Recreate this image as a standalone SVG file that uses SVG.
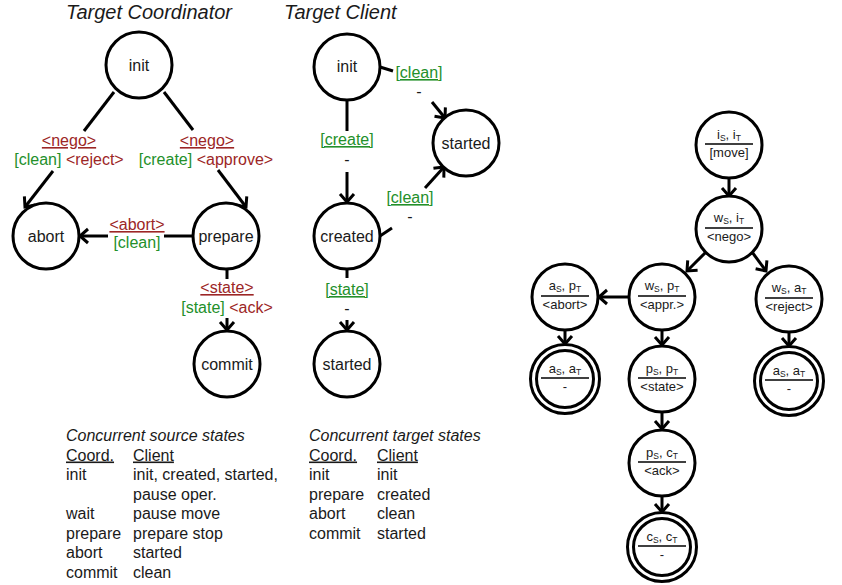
<svg xmlns="http://www.w3.org/2000/svg" width="842" height="585" viewBox="0 0 842 585">
<style>
text{font-family:"Liberation Sans",Arial,sans-serif;fill:#1a1a1a}
.t{font-size:20px;font-style:italic}
.n{font-size:16px;text-anchor:middle}
.l{font-size:16px;text-anchor:middle}
.r{fill:#9c2626}
.g{fill:#23902a}
.u{text-decoration:underline}
.tb{font-size:16px}
.ti{font-size:16px;font-style:italic}
.s{font-size:13px;text-anchor:middle}
.sb{font-size:8.5px}
circle{fill:#fff;stroke:#000;stroke-width:3}
.e line,.e path{stroke:#000;stroke-width:3;fill:none}
.dv{stroke:#000;stroke-width:1.3}
</style>
<defs>
<marker id="a" markerUnits="userSpaceOnUse" markerWidth="20" markerHeight="20" viewBox="0 0 20 20" refX="14" refY="10" orient="auto">
<path d="M6,3 L14,10 L6,17" fill="none" stroke="#000" stroke-width="3"/>
</marker>
</defs>

<text class="t" x="66" y="19">Target Coordinator</text>
<text class="t" x="284" y="19">Target Client</text>

<g class="e" id="connectors">
<line x1="114" y1="92" x2="84" y2="131"/>
<line x1="53" y1="171" x2="25" y2="207" marker-end="url(#a)"/>
<line x1="164" y1="92" x2="193" y2="130"/>
<line x1="218" y1="170" x2="246" y2="207" marker-end="url(#a)"/>
<line x1="193" y1="236" x2="164" y2="236"/>
<line x1="108" y1="236" x2="80" y2="236" marker-end="url(#a)"/>
<line x1="227" y1="269" x2="227" y2="279"/>
<line x1="227" y1="318" x2="227" y2="330" marker-end="url(#a)"/>
<line x1="347" y1="100" x2="347" y2="131"/>
<line x1="347" y1="172" x2="347" y2="202" marker-end="url(#a)"/>
<line x1="380" y1="67" x2="393" y2="71"/>
<line x1="432" y1="102" x2="445" y2="118" marker-end="url(#a)"/>
<line x1="380" y1="236" x2="392" y2="228"/>
<line x1="425" y1="188" x2="444" y2="167" marker-end="url(#a)"/>
<line x1="347" y1="270" x2="347" y2="278"/>
<line x1="347" y1="320" x2="347" y2="330" marker-end="url(#a)"/>
<line x1="729" y1="178" x2="729" y2="196" marker-end="url(#a)"/>
<line x1="706" y1="252" x2="687" y2="271" marker-end="url(#a)"/>
<line x1="752" y1="252" x2="766" y2="271" marker-end="url(#a)"/>
<line x1="629" y1="297" x2="599" y2="297" marker-end="url(#a)"/>
<line x1="565" y1="330" x2="565" y2="344" marker-end="url(#a)"/>
<line x1="662" y1="330" x2="662" y2="345" marker-end="url(#a)"/>
<line x1="789" y1="332" x2="789" y2="346" marker-end="url(#a)"/>
<line x1="662" y1="412" x2="662" y2="429" marker-end="url(#a)"/>
<line x1="662" y1="496" x2="662" y2="512" marker-end="url(#a)"/>
</g>

<g id="edge-labels">
<text class="l r u" x="69" y="146">&lt;nego&gt;</text>
<text class="l" x="69" y="165"><tspan class="g">[clean]</tspan> <tspan class="r">&lt;reject&gt;</tspan></text>
<text class="l r u" x="207" y="146">&lt;nego&gt;</text>
<text class="l" x="206" y="165"><tspan class="g">[create]</tspan> <tspan class="r">&lt;approve&gt;</tspan></text>
<text class="l r u" x="137" y="230">&lt;abort&gt;</text>
<text class="l g" x="137" y="248">[clean]</text>
<text class="l r u" x="227" y="293">&lt;state&gt;</text>
<text class="l" x="227" y="313"><tspan class="g">[state]</tspan> <tspan class="r">&lt;ack&gt;</tspan></text>
<text class="l g u" x="347" y="145">[create]</text>
<text class="l" x="347" y="165">-</text>
<text class="l g u" x="419" y="78">[clean]</text>
<text class="l" x="419" y="97">-</text>
<text class="l g u" x="410" y="203">[clean]</text>
<text class="l" x="410" y="222">-</text>
<text class="l g u" x="347" y="295">[state]</text>
<text class="l" x="347" y="314">-</text>
</g>

<g id="c-init"><circle cx="139" cy="65" r="33"/><text class="n" x="139" y="71">init</text></g>
<g id="c-abort"><circle cx="46" cy="236" r="33"/><text class="n" x="46" y="242">abort</text></g>
<g id="c-prepare"><circle cx="226" cy="236" r="33"/><text class="n" x="226" y="242">prepare</text></g>
<g id="c-commit"><circle cx="227" cy="364" r="33"/><text class="n" x="227" y="370">commit</text></g>

<g id="t-init"><circle cx="347" cy="67" r="33"/><text class="n" x="347" y="72">init</text></g>
<g id="t-started1"><circle cx="466" cy="143" r="33"/><text class="n" x="466" y="149">started</text></g>
<g id="t-created"><circle cx="347" cy="236" r="33"/><text class="n" x="347" y="242">created</text></g>
<g id="t-started2"><circle cx="347" cy="364" r="33"/><text class="n" x="347" y="370">started</text></g>

<g id="p-is-it"><circle cx="729" cy="145" r="33"/>
<text class="s" x="729" y="139">i<tspan class="sb" dy="2">S</tspan><tspan dy="-2">, i</tspan><tspan class="sb" dy="2">T</tspan></text>
<line class="dv" x1="705" y1="144" x2="753" y2="144"/>
<text class="s" x="729" y="157">[move]</text></g>

<g id="p-ws-it"><circle cx="729" cy="229" r="33"/>
<text class="s" x="729" y="222">w<tspan class="sb" dy="2">S</tspan><tspan dy="-2">, i</tspan><tspan class="sb" dy="2">T</tspan></text>
<line class="dv" x1="705" y1="228" x2="753" y2="228"/>
<text class="s" x="729" y="241">&lt;nego&gt;</text></g>

<g id="p-as-pt"><circle cx="565" cy="297" r="33"/>
<text class="s" x="565" y="290">a<tspan class="sb" dy="2">S</tspan><tspan dy="-2">, p</tspan><tspan class="sb" dy="2">T</tspan></text>
<line class="dv" x1="541" y1="296" x2="589" y2="296"/>
<text class="s" x="565" y="309">&lt;abort&gt;</text></g>

<g id="p-ws-pt"><circle cx="662" cy="297" r="33"/>
<text class="s" x="662" y="290">w<tspan class="sb" dy="2">S</tspan><tspan dy="-2">, p</tspan><tspan class="sb" dy="2">T</tspan></text>
<line class="dv" x1="638" y1="296" x2="686" y2="296"/>
<text class="s" x="662" y="309">&lt;appr.&gt;</text></g>

<g id="p-ws-at"><circle cx="789" cy="299" r="33"/>
<text class="s" x="789" y="292">w<tspan class="sb" dy="2">S</tspan><tspan dy="-2">, a</tspan><tspan class="sb" dy="2">T</tspan></text>
<line class="dv" x1="765" y1="298" x2="813" y2="298"/>
<text class="s" x="789" y="311">&lt;reject&gt;</text></g>

<g id="p-as-at1"><circle cx="565" cy="379" r="34.5"/><circle cx="565" cy="379" r="28.5"/>
<text class="s" x="565" y="373">a<tspan class="sb" dy="2">S</tspan><tspan dy="-2">, a</tspan><tspan class="sb" dy="2">T</tspan></text>
<line class="dv" x1="541" y1="378" x2="589" y2="378"/>
<text class="s" x="565" y="391">-</text></g>

<g id="p-ps-pt"><circle cx="662" cy="379" r="33"/>
<text class="s" x="662" y="373">p<tspan class="sb" dy="2">S</tspan><tspan dy="-2">, p</tspan><tspan class="sb" dy="2">T</tspan></text>
<line class="dv" x1="638" y1="378" x2="686" y2="378"/>
<text class="s" x="662" y="391">&lt;state&gt;</text></g>

<g id="p-as-at2"><circle cx="789" cy="381" r="34.5"/><circle cx="789" cy="381" r="28.5"/>
<text class="s" x="789" y="375">a<tspan class="sb" dy="2">S</tspan><tspan dy="-2">, a</tspan><tspan class="sb" dy="2">T</tspan></text>
<line class="dv" x1="765" y1="380" x2="813" y2="380"/>
<text class="s" x="789" y="393">-</text></g>

<g id="p-ps-ct"><circle cx="662" cy="463" r="33"/>
<text class="s" x="662" y="457">p<tspan class="sb" dy="2">S</tspan><tspan dy="-2">, c</tspan><tspan class="sb" dy="2">T</tspan></text>
<line class="dv" x1="638" y1="462" x2="686" y2="462"/>
<text class="s" x="662" y="475">&lt;ack&gt;</text></g>

<g id="p-cs-ct"><circle cx="662" cy="547" r="34.5"/><circle cx="662" cy="547" r="28.5"/>
<text class="s" x="662" y="541">c<tspan class="sb" dy="2">S</tspan><tspan dy="-2">, c</tspan><tspan class="sb" dy="2">T</tspan></text>
<line class="dv" x1="638" y1="546" x2="686" y2="546"/>
<text class="s" x="662" y="559">-</text></g>

<g id="source-table">
<text class="ti" x="66" y="441">Concurrent source states</text>
<text class="tb u" x="66" y="460.5">Coord.</text><text class="tb u" x="133" y="460.5">Client</text>
<text class="tb" x="66" y="480">init</text><text class="tb" x="133" y="480">init, created, started,</text>
<text class="tb" x="133" y="499.5">pause oper.</text>
<text class="tb" x="66" y="519">wait</text><text class="tb" x="133" y="519">pause move</text>
<text class="tb" x="66" y="538.5">prepare</text><text class="tb" x="133" y="538.5">prepare stop</text>
<text class="tb" x="66" y="558">abort</text><text class="tb" x="133" y="558">started</text>
<text class="tb" x="66" y="577.5">commit</text><text class="tb" x="133" y="577.5">clean</text>
</g>
<g id="target-table">
<text class="ti" x="309" y="441">Concurrent target states</text>
<text class="tb u" x="309" y="460.5">Coord.</text><text class="tb u" x="377" y="460.5">Client</text>
<text class="tb" x="309" y="480">init</text><text class="tb" x="377" y="480">init</text>
<text class="tb" x="309" y="499.5">prepare</text><text class="tb" x="377" y="499.5">created</text>
<text class="tb" x="309" y="519">abort</text><text class="tb" x="377" y="519">clean</text>
<text class="tb" x="309" y="538.5">commit</text><text class="tb" x="377" y="538.5">started</text>
</g>
</svg>
